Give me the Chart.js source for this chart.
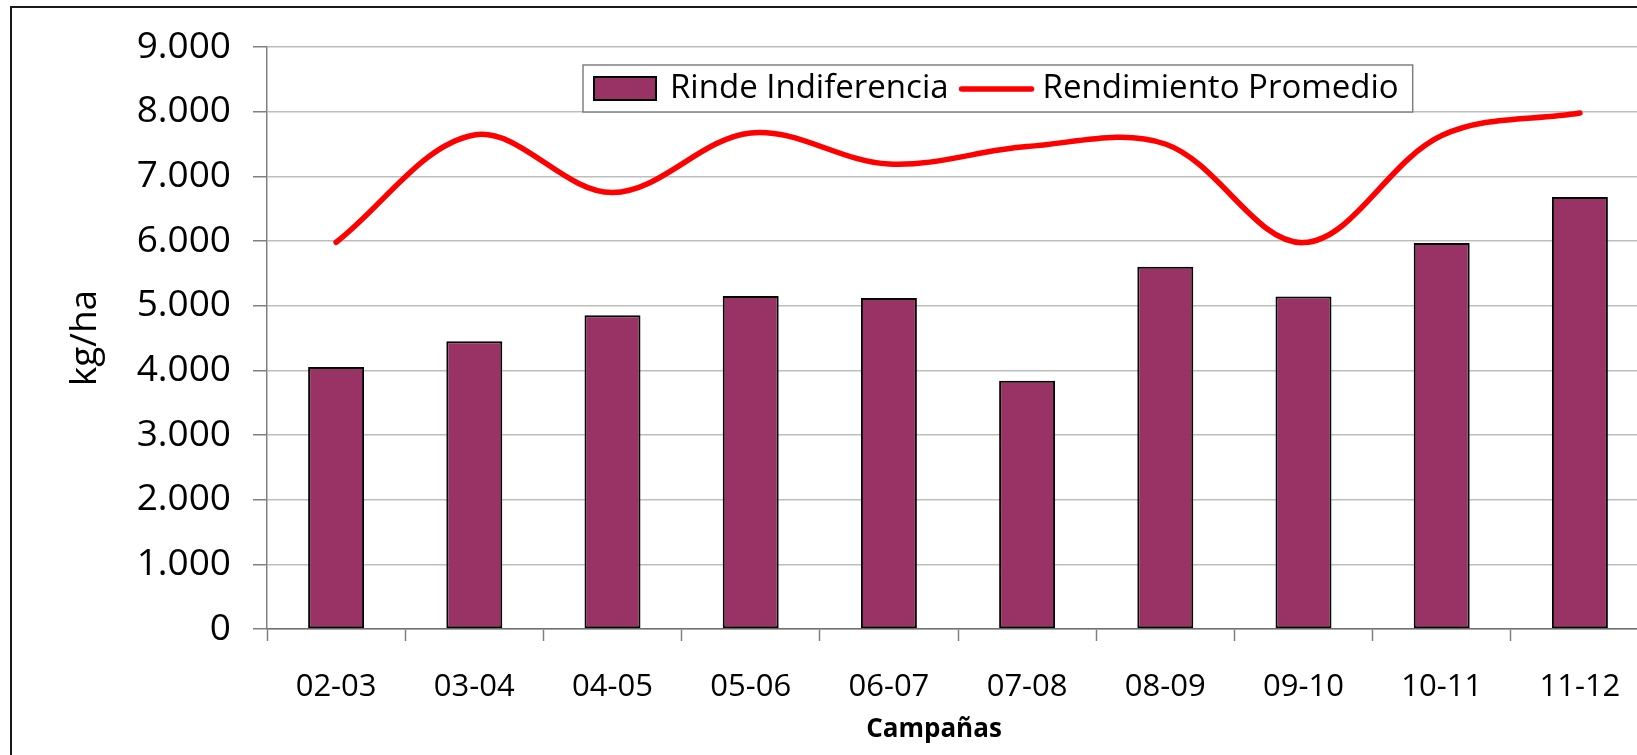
<!DOCTYPE html>
<html>
<head>
<meta charset="utf-8">
<script src="https://cdn.jsdelivr.net/npm/chart.js@4/dist/chart.umd.min.js"></script>
<style>
  html, body { margin: 0; padding: 0; background: #fff; overflow: hidden; }
  #wrap { position: relative; width: 1700px; height: 755px; }
</style>
</head>
<body>
<div id="wrap"><canvas id="chart"></canvas></div>
<script>
// Datos
const campanas = ["02-03", "03-04", "04-05", "05-06", "06-07", "07-08", "08-09", "09-10", "10-11", "11-12"];
const rindeIndiferencia = [4050, 4450, 4850, 5150, 5120, 3840, 5600, 5140, 5970, 6680];
const rendimientoPromedio = [5980, 7640, 6750, 7670, 7190, 7460, 7500, 5975, 7630, 7980];
const ejeYMin = 0;
const ejeYMax = 9000;
const ejeYPaso = 1000;

const FONT = "'Open Sans', 'Noto Sans', sans-serif";

// 9000 -> "9.000"
function miles(v) {
  return String(v).replace(/\B(?=(\d{3})+(?!\d))/g, ".");
}

// outer frame of the chart object
const marco = {
  id: "marco",
  beforeDraw(chart) {
    const ctx = chart.ctx;
    ctx.save();
    ctx.fillStyle = "#fff";
    ctx.fillRect(0, 0, chart.width, chart.height);
    ctx.strokeStyle = "#1a1a1a";
    ctx.lineWidth = 2;
    ctx.strokeRect(11, 7, chart.width + 50, chart.height + 50);
    ctx.restore();
  },
};

// boxed legend like the Excel one
const leyenda = {
  id: "leyenda",
  afterDraw(chart) {
    const ctx = chart.ctx;
    const ds = chart.data.datasets;
    ctx.save();
    ctx.font = `33px ${FONT}`;
    const x0 = 583, y0 = 65, h = 47, cy = 89;
    const sw = 62, lineW = 70;
    const w1 = ctx.measureText(ds[0].label).width;
    const w2 = ctx.measureText(ds[1].label).width;
    let x = x0 + 11;
    const sx = x; x += sw + 14;
    const tx1 = x; x += w1 + 13;
    const lx = x; x += lineW + 11;
    const tx2 = x; x += w2 + 14;
    const boxW = x - x0;

    ctx.fillStyle = "#fff";
    ctx.fillRect(x0, y0, boxW, h);
    ctx.strokeStyle = "#808080";
    ctx.lineWidth = 1.5;
    ctx.strokeRect(x0, y0, boxW, h);

    ctx.fillStyle = ds[0].backgroundColor;
    ctx.fillRect(sx, cy - 12, sw, 23);
    ctx.strokeStyle = ds[0].borderColor;
    ctx.lineWidth = 2;
    ctx.strokeRect(sx, cy - 12, sw, 23);

    ctx.strokeStyle = ds[1].borderColor;
    ctx.lineWidth = 5.5;
    ctx.lineCap = "round";
    ctx.beginPath();
    ctx.moveTo(lx, cy);
    ctx.lineTo(lx + lineW, cy);
    ctx.stroke();

    ctx.fillStyle = "#000";
    ctx.textBaseline = "middle";
    ctx.fillText(ds[0].label, tx1, cy);
    ctx.fillText(ds[1].label, tx2, cy);
    ctx.restore();
  },
};

// x title sits a bit left of the plot centre in the original
const tituloX = {
  id: "tituloX",
  afterDraw(chart) {
    const ctx = chart.ctx;
    ctx.save();
    ctx.font = `bold 26px ${FONT}`;
    ctx.fillStyle = "#000";
    ctx.textAlign = "center";
    ctx.textBaseline = "alphabetic";
    ctx.fillText("Campañas", 934, 737);
    ctx.restore();
  },
};

new Chart(document.getElementById("chart"), {
  data: {
    labels: campanas,
    datasets: [
      {
        type: "bar",
        label: "Rinde Indiferencia",
        data: rindeIndiferencia,
        backgroundColor: "#993366",
        borderColor: "#000",
        borderWidth: 2,
        borderSkipped: false,
        categoryPercentage: 1,
        barPercentage: 0.405,
        order: 2,
      },
      {
        type: "line",
        label: "Rendimiento Promedio",
        data: rendimientoPromedio,
        borderColor: "#ff0000",
        backgroundColor: "#ff0000",
        borderWidth: 5.5,
        borderCapStyle: "round",
        borderJoinStyle: "round",
        tension: 0.35,
        pointRadius: 0,
        fill: false,
        order: 1,
      },
    ],
  },
  options: {
    responsive: true,
    maintainAspectRatio: false,
    animation: false,
    layout: { padding: { left: 40, top: 47, right: 51, bottom: 0 } },
    plugins: {
      legend: { display: false },
      tooltip: { enabled: false },
    },
    scales: {
      x: {
        grid: {
          drawOnChartArea: false,
          drawTicks: true,
          tickLength: 12,
          tickColor: "#808080",
          tickWidth: 1.5,
        },
        border: { color: "#707070", width: 1.5 },
        ticks: {
          color: "#000",
          padding: 28,
          font: { family: FONT, size: 31 },
          maxRotation: 0,
        },
        afterFit: (scale) => {
          scale.height = 126;
        },
      },
      y: {
        min: ejeYMin,
        max: ejeYMax,
        ticks: {
          stepSize: ejeYPaso,
          color: "#000",
          padding: 22,
          font: { family: FONT, size: 37 },
          callback: (v) => miles(v),
        },
        grid: {
          color: "#bdbdbd",
          lineWidth: 1.5,
          tickLength: 14,
          tickColor: "#808080",
        },
        border: { color: "#808080", width: 1.5 },
        title: {
          display: true,
          text: "kg/ha",
          color: "#000",
          font: { family: FONT, size: 37 },
          padding: { top: 23, bottom: 0 },
        },
        afterFit: (scale) => {
          scale.width = 227;
        },
      },
    },
  },
  plugins: [marco, leyenda, tituloX],
});
</script>
</body>
</html>
